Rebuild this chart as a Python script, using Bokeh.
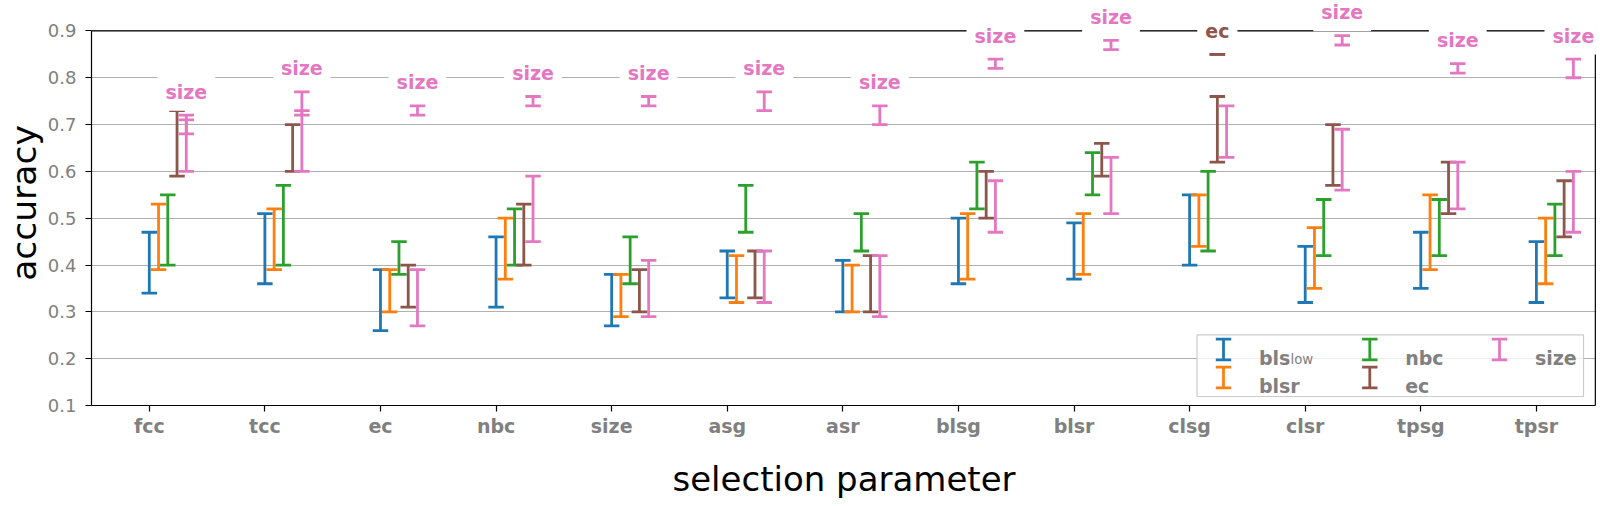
from bokeh.plotting import figure
from bokeh.models import Range1d, FixedTicker
from bokeh.core.properties import value
from bokeh.embed import file_html
from bokeh.resources import INLINE

# ---------------- data ----------------
categories = ["fcc", "tcc", "ec", "nbc", "size", "asg", "asr",
              "blsg", "blsr", "clsg", "clsr", "tpsg", "tpsr"]
series_names = ["bls_low", "blsr", "nbc", "ec", "size"]

bls_low_lo = [0.34, 0.36, 0.26, 0.31, 0.27, 0.33, 0.30, 0.36, 0.37, 0.40, 0.32, 0.35, 0.32]
bls_low_hi = [0.47, 0.51, 0.39, 0.46, 0.38, 0.43, 0.41, 0.50, 0.49, 0.55, 0.44, 0.47, 0.45]
blsr_lo = [0.39, 0.39, 0.30, 0.37, 0.29, 0.32, 0.30, 0.37, 0.38, 0.44, 0.35, 0.39, 0.36]
blsr_hi = [0.53, 0.52, 0.39, 0.50, 0.38, 0.42, 0.40, 0.51, 0.51, 0.55, 0.48, 0.55, 0.50]
nbc_lo = [0.40, 0.40, 0.38, 0.40, 0.36, 0.47, 0.43, 0.52, 0.55, 0.43, 0.42, 0.42, 0.42]
nbc_hi = [0.55, 0.57, 0.45, 0.52, 0.46, 0.57, 0.51, 0.62, 0.64, 0.60, 0.54, 0.54, 0.53]
ec_lo = [0.59, 0.60, 0.31, 0.40, 0.30, 0.33, 0.30, 0.50, 0.59, 0.62, 0.57, 0.51, 0.46]
ec_hi = [0.73, 0.70, 0.40, 0.53, 0.39, 0.43, 0.42, 0.60, 0.66, 0.76, 0.70, 0.62, 0.58]
size_lo = [0.60, 0.60, 0.27, 0.45, 0.29, 0.32, 0.29, 0.47, 0.51, 0.63, 0.56, 0.52, 0.47]
size_hi = [0.71, 0.73, 0.39, 0.59, 0.41, 0.43, 0.42, 0.58, 0.63, 0.74, 0.69, 0.62, 0.60]

# best (annotated) bar per selection parameter
best_series = ["size", "size", "size", "size", "size", "size", "size",
               "size", "size", "ec", "size", "size", "size"]
best_lo = [0.68, 0.72, 0.72, 0.74, 0.74, 0.73, 0.70, 0.82, 0.86, 0.85, 0.87, 0.81, 0.80]
best_hi = [0.72, 0.77, 0.74, 0.76, 0.76, 0.77, 0.74, 0.84, 0.88, 0.85, 0.89, 0.83, 0.84]

y_ticks = [0.1, 0.2, 0.3, 0.4, 0.5, 0.6, 0.7, 0.8, 0.9]
y_tick_labels = ["0.1", "0.2", "0.3", "0.4", "0.5", "0.6", "0.7", "0.8", "0.9"]

# ---------------- style ----------------
colors = ["#1f77b4", "#ff7f0e", "#2ca02c", "#8c564b", "#e377c2"]
FONT = "DejaVu Sans"
GRAY = "#808080"
FS = "19px"
OFFSET_STEP = 0.08
CAP = 0.067
LW = 2.8
LABEL_GAP = 0.05
SPINE_X = 12.51

lows = [bls_low_lo, blsr_lo, nbc_lo, ec_lo, size_lo]
highs = [bls_low_hi, blsr_hi, nbc_hi, ec_hi, size_hi]

FRAME_L, FRAME_W, FRAME_T, FRAME_H = 94, 1505, 8, 405  # page pixels

p = figure(frame_width=FRAME_W, frame_height=FRAME_H,
           min_border_left=86, min_border_right=1, min_border_top=0, min_border_bottom=93,
           x_range=Range1d(-0.5, 12.52), y_range=Range1d(0.1, 0.965),
           output_backend="svg", toolbar_location=None)
p.extra_x_ranges = {"px": Range1d(FRAME_L, FRAME_L + FRAME_W)}
p.extra_y_ranges = {"py": Range1d(FRAME_T + FRAME_H, FRAME_T)}

p.outline_line_color = None
p.background_fill_color = "white"
p.border_fill_color = "white"
p.xgrid.visible = False
p.ygrid.ticker = FixedTicker(ticks=y_ticks)
p.ygrid.grid_line_color = "#b0b0b0"
p.ygrid.grid_line_width = 1.1

# axes
p.yaxis.ticker = FixedTicker(ticks=y_ticks)
p.yaxis.major_label_overrides = dict(zip(y_ticks, y_tick_labels))
p.yaxis.bounds = (0.1, 0.9)
p.xaxis.ticker = FixedTicker(ticks=list(range(len(categories))))
p.xaxis.major_label_overrides = {i: c for i, c in enumerate(categories)}
p.xaxis.bounds = (-0.5, SPINE_X)
for ax in (p.xaxis, p.yaxis):
    ax.axis_line_color = "black"
    ax.axis_line_width = 1.2
    ax.major_tick_line_color = "black"
    ax.major_tick_line_width = 1.2
    ax.major_tick_out = 6
    ax.major_tick_in = 0
    ax.minor_tick_out = 0
    ax.minor_tick_in = 0
    ax.major_label_text_font = FONT
    ax.major_label_text_color = GRAY
    ax.axis_label_text_font = FONT
    ax.axis_label_text_font_style = "normal"
    ax.axis_label_text_color = "black"
p.xaxis.axis_label_text_font_size = "34px"
p.yaxis.axis_label_text_font_size = "34.5px"
p.xaxis.major_label_text_font_size = FS
p.yaxis.major_label_text_font_size = "18px"
p.xaxis.major_label_text_font_style = "bold"
p.yaxis.major_label_standoff = 9
p.xaxis.major_label_standoff = 3
p.xaxis.axis_label = "selection parameter"
p.xaxis.axis_label_standoff = 19
p.yaxis.axis_label = "accuracy"
p.yaxis.axis_label_standoff = 1

# error bars
for k in range(len(series_names)):
    xs = [i + k * OFFSET_STEP for i in range(len(categories))]
    kw = dict(line_color=colors[k], line_width=LW, line_cap="butt")
    p.segment(x0=xs, y0=lows[k], x1=xs, y1=highs[k], **kw)
    p.segment(x0=[x - CAP for x in xs], y0=lows[k], x1=[x + CAP for x in xs], y1=lows[k], **kw)
    p.segment(x0=[x - CAP for x in xs], y0=highs[k], x1=[x + CAP for x in xs], y1=highs[k], **kw)

bidx = [series_names.index(s) for s in best_series]
bx = [i + bidx[i] * OFFSET_STEP for i in range(len(categories))]
bcol = [colors[b] for b in bidx]
p.segment(x0=bx, y0=best_lo, x1=bx, y1=best_hi, line_color=bcol, line_width=LW, line_cap="butt")
p.segment(x0=[x - CAP for x in bx], y0=best_lo, x1=[x + CAP for x in bx], y1=best_lo,
          line_color=bcol, line_width=LW, line_cap="butt")
p.segment(x0=[x - CAP for x in bx], y0=best_hi, x1=[x + CAP for x in bx], y1=best_hi,
          line_color=bcol, line_width=LW, line_cap="butt")

# top and right spines
p.line(x=[-0.5, SPINE_X, SPINE_X], y=[0.9, 0.9, 0.1], line_color="black", line_width=1.2)

# annotations of best bars
p.text(x=bx, y=[h + LABEL_GAP for h in best_hi], text=best_series, text_color=bcol,
       text_font=value(FONT), text_font_style="bold", text_font_size=FS,
       text_align="center", text_baseline="middle",
       background_fill_color="white", padding=8)

# ---------------- legend (page pixel coordinates) ----------------
LEG_L, LEG_R, LEG_T, LEG_B = 1199.5, 1586, 342.3, 404
p.quad(left=[LEG_L], right=[LEG_R], top=[LEG_T], bottom=[LEG_B],
       x_range_name="px", y_range_name="py",
       fill_color="white", fill_alpha=0.8, line_color="#cccccc", line_width=1.2)
col_x = [1226, 1372.3, 1502]
row_y = [357, 385]
slots = [(0, 0), (0, 1), (1, 0), (1, 1), (2, 0)]
legend_text = ["bls", "blsr", "nbc", "ec", "size"]
ICON_H, ICON_C, TEXT_DX, BASE_DY = 10.3, 7.7, 35.4, 8
ix = [col_x[c] for c, r in slots]
iy = [row_y[r] for c, r in slots]
p.segment(x0=ix, y0=[y - ICON_H for y in iy], x1=ix, y1=[y + ICON_H for y in iy],
          x_range_name="px", y_range_name="py", line_color=colors, line_width=LW, line_cap="butt")
for sgn in (-1, 1):
    p.segment(x0=[x - ICON_C for x in ix], y0=[y + sgn * ICON_H for y in iy],
              x1=[x + ICON_C for x in ix], y1=[y + sgn * ICON_H for y in iy],
              x_range_name="px", y_range_name="py", line_color=colors, line_width=LW, line_cap="butt")
p.text(x=[x + TEXT_DX for x in ix], y=[y + BASE_DY for y in iy], text=legend_text,
       x_range_name="px", y_range_name="py",
       text_font=value(FONT), text_font_style="bold", text_font_size=FS, text_color=GRAY,
       text_align="left", text_baseline="alphabetic")
p.text(x=[ix[0] + TEXT_DX + 31.6], y=[iy[0] + BASE_DY + 2], text=["low"],
       x_range_name="px", y_range_name="py",
       text_font=value(FONT), text_font_style="normal", text_font_size="13.3px", text_color=GRAY,
       text_align="left", text_baseline="alphabetic")

open("out.html", "w").write(file_html(p, INLINE))
